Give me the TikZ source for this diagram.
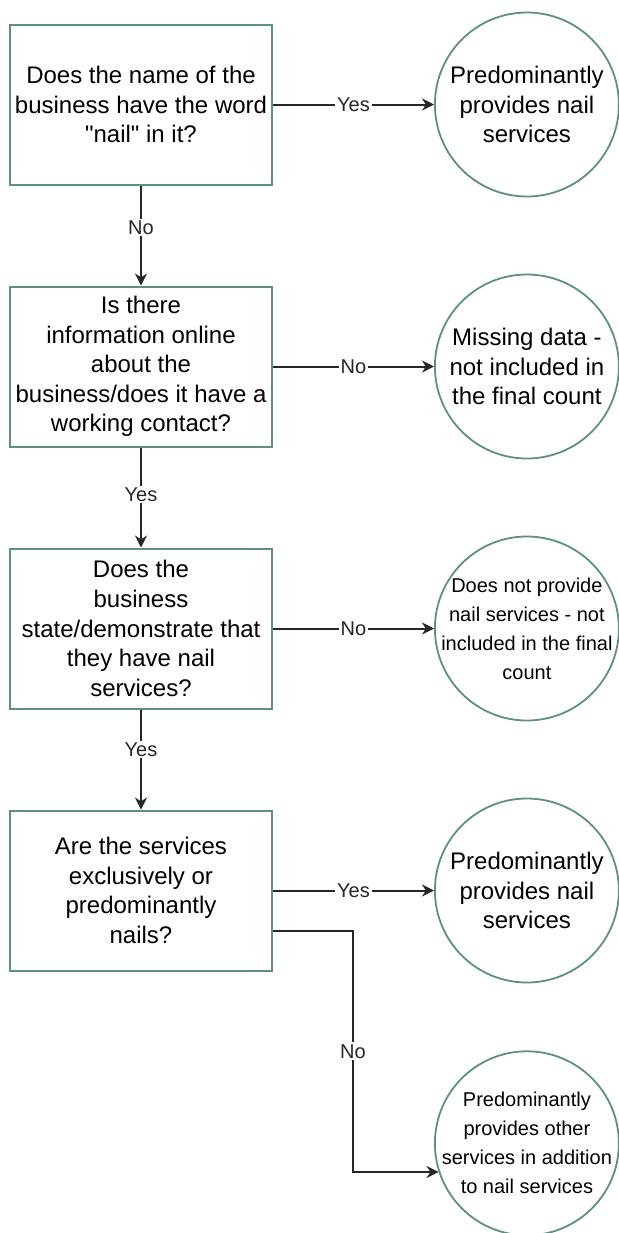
\documentclass[tikz,border=0pt]{standalone}
\usepackage{fontspec}
\setmainfont{Liberation Sans}
\usepackage{tikz}
\usetikzlibrary{positioning,arrows.meta}
\definecolor{boxgreen}{RGB}{95,143,130}

\begin{document}
\begin{tikzpicture}[
Qnode/.style={rectangle, draw=boxgreen, line width=1pt, minimum width=131pt, minimum height=80pt, align=center, inner sep=1pt, font=\fontsize{12pt}{14.8pt}\selectfont},
Anode/.style={circle, draw=boxgreen, line width=0.9pt, minimum size=92pt, align=center, inner sep=-15pt, font=\fontsize{12pt}{14.8pt}\selectfont},
Asmall/.style={Anode, font=\fontsize{10pt}{14.5pt}\selectfont},
Arrow/.style={line width=1pt, black!85, -{Stealth[length=6pt, width=6pt]}},
Lbl/.style={fill=white, inner sep=1pt, font=\fontsize{10pt}{12pt}\selectfont},
node distance=50pt and 80.5pt
]
\useasboundingbox (0,0) rectangle (309pt,-616.5pt);
%Nodes
\node[Qnode] (Q1) at (70.5pt,-52.25pt) {Does the name of the\\business have the word\\\textquotedbl nail\textquotedbl{} in it?};
\node[Qnode] (Q2) [below=of Q1] {Is there\\information online\\about the\\business/does it have a\\working contact?};
\node[Qnode] (Q3) [below=of Q2] {Does the\\business\\state/demonstrate that\\they have nail\\services?};
\node[Qnode] (Q4) [below=of Q3] {Are the services\\exclusively or\\predominantly\\nails?};
\node[Anode] (A1) [right=of Q1] {Predominantly\\provides nail\\services};
\node[Anode] (A2) [right=of Q2] {Missing data -\\not included in\\the final count};
\node[Asmall] (A3) [right=of Q3] {Does not provide\\nail services - not\\included in the final\\count};
\node[Anode] (A4) [right=of Q4] {Predominantly\\provides nail\\services};
\node[Asmall] (A5) [below=33.5pt of A4] {Predominantly\\provides other\\services in addition\\to nail services};
%Lines
\draw[Arrow] (Q1) -- node[Lbl] {Yes} (A1);
\draw[Arrow] (Q2) -- node[Lbl] {No} (A2);
\draw[Arrow] (Q3) -- node[Lbl] {No} (A3);
\draw[Arrow] (Q4) -- node[Lbl] {Yes} (A4);
\draw[Arrow] (Q1) -- node[Lbl, pos=0.42] {No} (Q2);
\draw[Arrow] (Q2) -- node[Lbl, pos=0.47] {Yes} (Q3);
\draw[Arrow] (Q3) -- node[Lbl, pos=0.4] {Yes} (Q4);
\draw[Arrow] (Q4.-17) -- ++(40pt,0) |- node[Lbl, pos=0.25] {No} (A5.198);
\end{tikzpicture}
\end{document}
